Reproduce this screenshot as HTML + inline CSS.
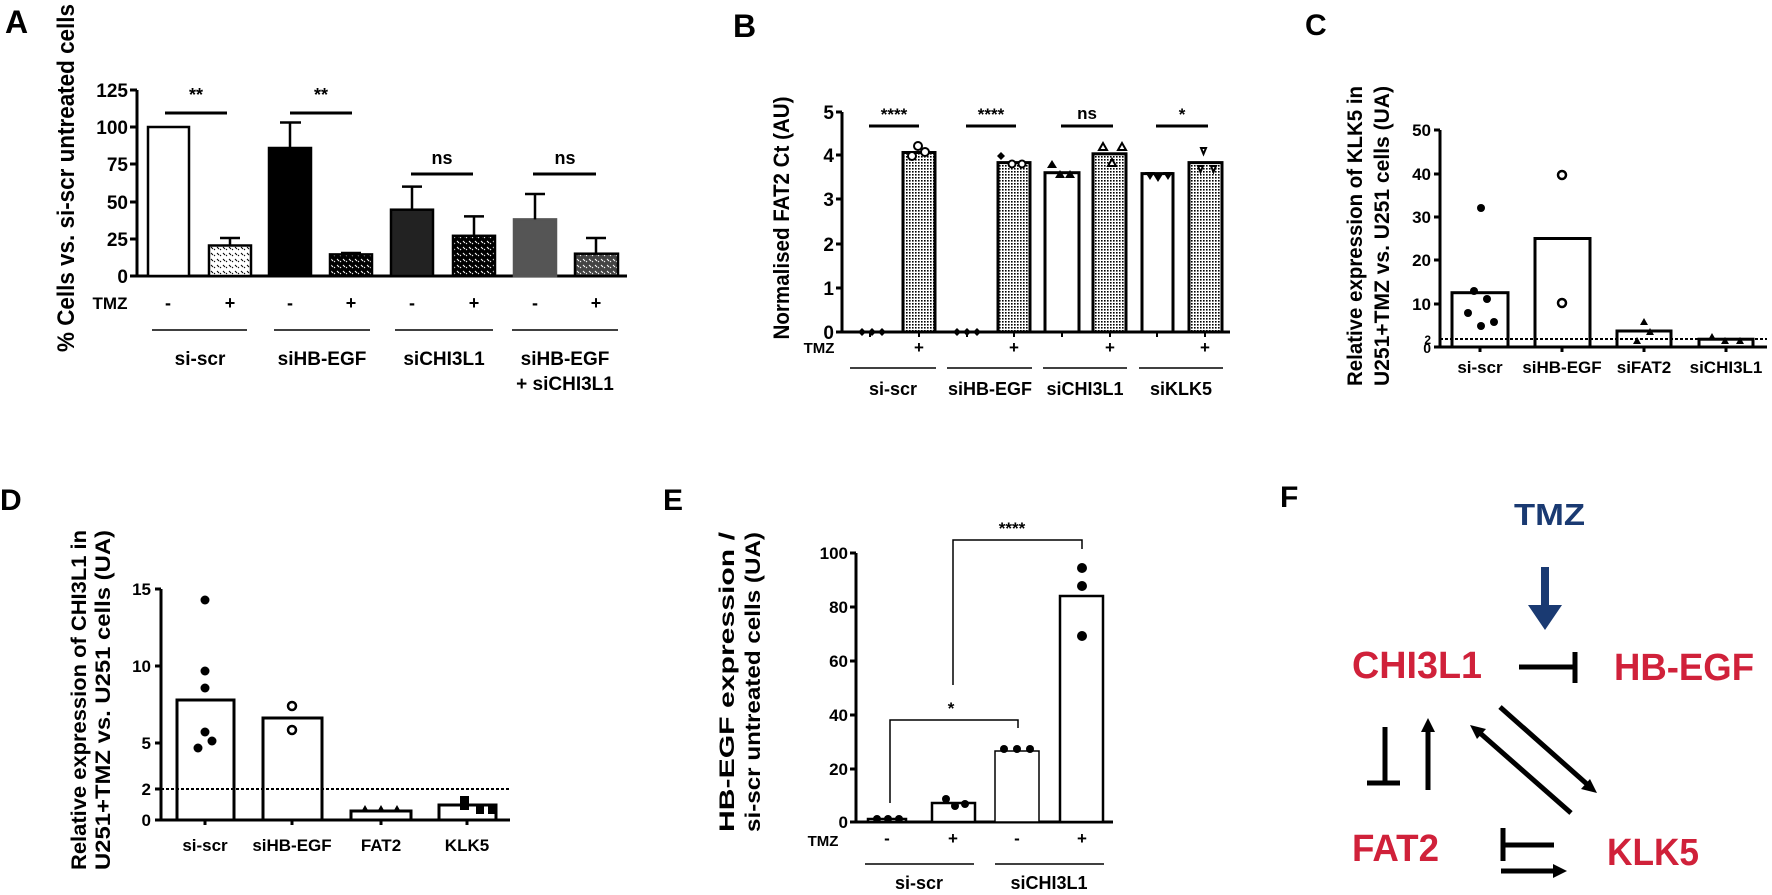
<!DOCTYPE html>
<html><head><meta charset="utf-8"><style>html,body{margin:0;padding:0;background:#fff}svg{display:block}text{font-family:"Liberation Sans",Arial,sans-serif;font-weight:bold}</style></head><body>
<svg width="1772" height="895" viewBox="0 0 1772 895" xmlns="http://www.w3.org/2000/svg">
<defs>
<pattern id="dw" width="6" height="6" patternUnits="userSpaceOnUse"><rect width="6" height="6" fill="#fff"/><path d="M1 1l2 2M4 4l1 -1" stroke="#000" stroke-width="1"/></pattern>
<pattern id="db" width="6" height="6" patternUnits="userSpaceOnUse"><rect width="6" height="6" fill="#000"/><path d="M1 1l2 2M4 4l1 -1" stroke="#fff" stroke-width="1"/></pattern>
<pattern id="dg" width="6" height="6" patternUnits="userSpaceOnUse"><rect width="6" height="6" fill="#444"/><path d="M1 1l2 2M4 4l1 -1" stroke="#fff" stroke-width="1"/></pattern>
<pattern id="dot" width="3" height="3" patternUnits="userSpaceOnUse"><rect width="3" height="3" fill="#fff"/><rect x="0" y="0" width="1.6" height="1.6" fill="#000"/></pattern>
</defs>
<g stroke="#000" fill="none" stroke-width="3">
<path d="M137 90V276H627"/>
<path d="M130 90h7M130 127h7M130 164h7M130 202h7M130 239h7M130 276h7"/>
</g>
<g font-size="19" text-anchor="end">
<text x="128" y="97">125</text><text x="128" y="134">100</text><text x="128" y="171">75</text><text x="128" y="209">50</text><text x="128" y="246">25</text><text x="128" y="283">0</text></g>
<text x="5" y="33" font-size="32">A</text>
<text transform="translate(74,178) rotate(-90)" font-size="24" text-anchor="middle" textLength="348" lengthAdjust="spacingAndGlyphs">% Cells vs. si-scr untreated cells</text>
<g stroke="#000" stroke-width="2.5">
<rect x="148" y="127" width="41" height="149" fill="#fff"/>
<rect x="209" y="245.5" width="42" height="30.5" fill="url(#dw)"/>
<rect x="269" y="148" width="42" height="128" fill="#000"/>
<rect x="330" y="254.4" width="42" height="21.6" fill="url(#db)"/>
<rect x="391" y="209.7" width="42" height="66.3" fill="#222"/>
<rect x="453" y="235.8" width="42" height="40.2" fill="url(#db)"/>
<rect x="514" y="219.4" width="42" height="56.6" fill="#555" stroke="#555"/>
<rect x="575" y="253.7" width="43" height="22.3" fill="url(#dg)"/>
<path fill="none" d="M230 245.5V238M220 238h20M290 148V122.5M280 122.5h21M351 254V253M341 253h20M412 209.7V186.6M402 186.6h20M474 235.8V216.4M464 216.4h20M535 219.4V194M525 194h20M596 253.7V238M586 238h20"/>
<path d="M165 113h62M290 113h62M411 174h62M533 174h63" stroke-width="3"/>
<path d="M152 330h95M274 330h96M395 330h98M512 330h106" stroke-width="1.5"/>
</g>
<g font-size="18" text-anchor="middle">
<text x="196" y="101">**</text><text x="321" y="101">**</text><text x="442" y="164">ns</text><text x="565" y="164">ns</text>
<text x="110" y="309" font-size="17">TMZ</text>
<text x="168" y="309">-</text><text x="230" y="309">+</text><text x="290" y="309">-</text><text x="351" y="309">+</text><text x="412" y="309">-</text><text x="474" y="309">+</text><text x="535" y="309">-</text><text x="596" y="309">+</text>
<text x="200" y="365" font-size="19">si-scr</text><text x="322" y="365" font-size="19">siHB-EGF</text><text x="444" y="365" font-size="19">siCHI3L1</text>
<text x="565" y="365" font-size="19">siHB-EGF</text><text x="565" y="390" font-size="19">+ siCHI3L1</text>
</g>
<text x="733" y="37" font-size="32">B</text>
<text transform="translate(789,218) rotate(-90)" font-size="22" text-anchor="middle" textLength="243" lengthAdjust="spacingAndGlyphs">Normalised FAT2 Ct (AU)</text>
<g font-size="19" text-anchor="end"><text x="834" y="119">5</text><text x="834" y="162">4</text><text x="834" y="206">3</text><text x="834" y="251">2</text><text x="834" y="295">1</text><text x="834" y="339">0</text></g>
<g stroke="#000" stroke-width="3" fill="none">
<path d="M842 112V332H1230"/>
<path d="M836 112h6M836 155h6M836 199h6M836 244h6M836 288h6M836 332h6"/>
<path d="M869 126h50M966 126h50M1061 126h52M1156 126h52"/>
<path d="M850 368h86M947 368h85M1043 368h84M1139 368h84" stroke-width="1.5"/>
<path d="M919 332v5M1014 332v5M1062 332v5M1110 332v5M1157 332v5M1205 332v5M870 332v5M967 332v5" stroke-width="2"/>
</g>
<g stroke="#000" stroke-width="3">
<rect x="903" y="152.5" width="32" height="179.5" fill="url(#dot)"/>
<rect x="998" y="162.6" width="32" height="169.4" fill="url(#dot)"/>
<rect x="1045" y="172.7" width="34" height="159.3" fill="#fff"/>
<rect x="1093" y="153.8" width="33" height="178.2" fill="url(#dot)"/>
<rect x="1142" y="173.6" width="31" height="158.4" fill="#fff"/>
<rect x="1189" y="162.6" width="33" height="169.4" fill="url(#dot)"/>
</g>
<g fill="#000">
<path d="M862 328l4 4-4 4-4-4zM872 328l4 4-4 4-4-4zM882 328l4 4-4 4-4-4zM957 328l4 4-4 4-4-4zM967 328l4 4-4 4-4-4zM977 328l4 4-4 4-4-4z"/>
<path d="M1052 160l5 8h-10zM1060 170l5 8h-10zM1070 170l5 8h-10zM1150 172l5 0-5 8-5-8zM1158 174l5 0-5 8-5-8zM1168 172l5 0-5 8-5-8z"/>
<path d="M1001 152l4 4-4 4-4-4z"/>
</g>
<g fill="#fff" stroke="#000" stroke-width="2">
<circle cx="918" cy="146" r="4"/><circle cx="925" cy="152" r="4"/><circle cx="912" cy="156" r="4"/>
<circle cx="1012" cy="164" r="3.5"/><circle cx="1022" cy="164" r="3.5"/>
<path d="M1099 150l4 -7 4 7zM1118 150l4 -7 4 7zM1108 166l4 -7 4 7zM1201 148l5 0-2.5 6zM1198 166l5 0-2.5 6zM1211 166l5 0-2.5 6z"/>
</g>
<g font-size="17" text-anchor="middle">
<text x="894" y="120">****</text><text x="991" y="120">****</text><text x="1087" y="119">ns</text><text x="1182" y="120">*</text>
<text x="819" y="353" font-size="15">TMZ</text>
<text x="919" y="353">+</text><text x="1014" y="353">+</text><text x="1110" y="353">+</text><text x="1205" y="353">+</text>
<text x="893" y="395" font-size="18">si-scr</text><text x="990" y="395" font-size="18">siHB-EGF</text><text x="1085" y="395" font-size="18">siCHI3L1</text><text x="1181" y="395" font-size="18">siKLK5</text>
</g>
<text x="1305" y="35" font-size="30">C</text>
<text transform="translate(1362,236) rotate(-90)" font-size="21" text-anchor="middle" textLength="300" lengthAdjust="spacingAndGlyphs">Relative expression of KLK5 in</text>
<text transform="translate(1389,236) rotate(-90)" font-size="21" text-anchor="middle" textLength="300" lengthAdjust="spacingAndGlyphs">U251+TMZ vs. U251 cells (UA)</text>
<g stroke="#000" stroke-width="3" fill="none">
<path d="M1440 130V347H1767"/>
<path d="M1434 130h6M1434 174h6M1434 217h6M1434 260h6M1434 304h6M1434 347h6M1480 347v5M1562 347v5M1644 347v5M1726 347v5"/>
</g>
<g stroke="#000" stroke-width="3" fill="#fff">
<rect x="1452" y="292.7" width="56" height="54.3"/><rect x="1535" y="238.5" width="55" height="108.5"/>
<rect x="1617" y="331" width="54" height="16"/><rect x="1699" y="339.2" width="54" height="7.8"/>
</g>
<path d="M1440 339H1767" stroke="#000" stroke-width="2" stroke-dasharray="3,2"/>
<g fill="#000"><circle cx="1481" cy="208" r="4"/><circle cx="1474" cy="291" r="4"/><circle cx="1487" cy="299" r="4"/><circle cx="1468" cy="313" r="4"/><circle cx="1481" cy="326" r="4"/><circle cx="1494" cy="322" r="4"/>
<path d="M1644 318l4 7h-8zM1650 328l4 7h-8zM1637 337l4 7h-8zM1712 333l4 7h-8zM1725 337l4 7h-8zM1740 337l4 7h-8z"/></g>
<g fill="#fff" stroke="#000" stroke-width="2.5"><circle cx="1562" cy="175" r="4"/><circle cx="1562" cy="303" r="4"/></g>
<g font-size="17" text-anchor="end"><text x="1431" y="136">50</text><text x="1431" y="180">40</text><text x="1431" y="223">30</text><text x="1431" y="266">20</text><text x="1431" y="310">10</text><text x="1431" y="344" font-size="12">2</text><text x="1431" y="353" font-size="14">0</text></g>
<g font-size="17" text-anchor="middle"><text x="1480" y="373">si-scr</text><text x="1562" y="373">siHB-EGF</text><text x="1644" y="373">siFAT2</text><text x="1726" y="373">siCHI3L1</text></g>
<text x="0" y="510" font-size="30">D</text>
<text transform="translate(86,700) rotate(-90)" font-size="21" text-anchor="middle" textLength="340" lengthAdjust="spacingAndGlyphs">Relative expression of CHI3L1 in</text>
<text transform="translate(110,700) rotate(-90)" font-size="21" text-anchor="middle" textLength="340" lengthAdjust="spacingAndGlyphs">U251+TMZ vs. U251 cells (UA)</text>
<g stroke="#000" stroke-width="3" fill="none">
<path d="M161 589V820H510"/>
<path d="M155 589h6M155 666h6M155 743h6M155 789h6M155 820h6M205 820v5M292 820v5M381 820v5M467 820v5"/>
</g>
<g stroke="#000" stroke-width="3" fill="#fff">
<rect x="177" y="700" width="57" height="120"/><rect x="263" y="718" width="59" height="102"/>
<rect x="351" y="811" width="60" height="9"/><rect x="439" y="805" width="57" height="15"/>
</g>
<path d="M161 789H510" stroke="#000" stroke-width="2" stroke-dasharray="3,2"/>
<g fill="#000"><circle cx="205" cy="600" r="4.5"/><circle cx="205" cy="671" r="4.5"/><circle cx="205" cy="688" r="4.5"/><circle cx="205" cy="732" r="4.5"/><circle cx="212" cy="741" r="4.5"/><circle cx="198" cy="748" r="4.5"/>
<path d="M365 805l4 7h-8zM381 805l4 7h-8zM397 805l4 7h-8z"/><rect x="460" y="796" width="9" height="14"/><rect x="476" y="805" width="8" height="9"/><rect x="488" y="805" width="8" height="9"/></g>
<g fill="#fff" stroke="#000" stroke-width="2.5"><circle cx="292" cy="706" r="4"/><circle cx="292" cy="730" r="4"/></g>
<g font-size="17" text-anchor="end"><text x="151" y="595">15</text><text x="151" y="672">10</text><text x="151" y="749">5</text><text x="151" y="795">2</text><text x="151" y="826">0</text></g>
<g font-size="17" text-anchor="middle"><text x="205" y="851">si-scr</text><text x="292" y="851">siHB-EGF</text><text x="381" y="851">FAT2</text><text x="467" y="851">KLK5</text></g>
<text x="663" y="510" font-size="30">E</text>
<text transform="translate(734,682) rotate(-90)" font-size="21" text-anchor="middle" textLength="300" lengthAdjust="spacingAndGlyphs">HB-EGF expression /</text>
<text transform="translate(760,682) rotate(-90)" font-size="21" text-anchor="middle" textLength="300" lengthAdjust="spacingAndGlyphs">si-scr untreated cells (UA)</text>
<g stroke="#000" stroke-width="3" fill="none">
<path d="M856 553V822H1113"/>
<path d="M850 553h6M850 607h6M850 661h6M850 715h6M850 769h6M850 822h6"/>
<path d="M865 864h109M995 864h109" stroke-width="1.5"/>
<path d="M890 803V720H1018V728M953 685V540H1082V549" stroke-width="1.5"/>
</g>
<g stroke="#000" stroke-width="2.5" fill="#fff">
<rect x="868" y="819" width="38" height="3"/><rect x="932" y="803" width="43" height="19"/><rect x="995" y="751" width="44" height="71" stroke-width="1.5"/><rect x="1060" y="596" width="43" height="226"/>
</g>
<g fill="#000"><circle cx="877" cy="819" r="4"/><circle cx="888" cy="819" r="4"/><circle cx="899" cy="819" r="4"/><circle cx="946" cy="799" r="4"/><circle cx="955" cy="806" r="4"/><circle cx="965" cy="804" r="4"/><circle cx="1004" cy="749" r="4"/><circle cx="1017" cy="749" r="4"/><circle cx="1030" cy="749" r="4"/><circle cx="1082" cy="568" r="5"/><circle cx="1082" cy="586" r="5"/><circle cx="1082" cy="636" r="5"/></g>
<g font-size="17" text-anchor="end"><text x="848" y="559">100</text><text x="848" y="613">80</text><text x="848" y="667">60</text><text x="848" y="721">40</text><text x="848" y="775">20</text><text x="848" y="828">0</text></g>
<g font-size="17" text-anchor="middle"><text x="951" y="714">*</text><text x="1012" y="534">****</text>
<text x="823" y="846" font-size="15">TMZ</text><text x="887" y="844">-</text><text x="953" y="844">+</text><text x="1017" y="844">-</text><text x="1082" y="844">+</text>
<text x="919" y="889" font-size="18">si-scr</text><text x="1049" y="889" font-size="18">siCHI3L1</text></g>
<text x="1280" y="507" font-size="30">F</text>
<text x="1514" y="525" font-size="31" fill="#1a3a72" textLength="71" lengthAdjust="spacingAndGlyphs">TMZ</text>
<path d="M1541 567h8v38h13l-17 25-17-25h13z" fill="#1a3a72"/>
<g font-size="38" fill="#d0213a">
<text x="1352" y="678" textLength="130" lengthAdjust="spacingAndGlyphs">CHI3L1</text>
<text x="1614" y="680" textLength="140" lengthAdjust="spacingAndGlyphs">HB-EGF</text>
<text x="1352" y="861" textLength="87" lengthAdjust="spacingAndGlyphs">FAT2</text>
<text x="1607" y="865" textLength="92" lengthAdjust="spacingAndGlyphs">KLK5</text>
</g>
<g stroke="#000" stroke-width="5" fill="none">
<path d="M1519 667H1575M1575 652V683"/>
<path d="M1385 727V783M1367 783H1400"/>
<path d="M1428 790V728"/>
<path d="M1500 707L1588 785"/>
<path d="M1571 813L1480 733"/>
<path d="M1554 845H1503M1503 828V861"/>
<path d="M1501 871H1555"/>
</g>
<g fill="#000">
<path d="M1428 718l-7 14h14z"/>
<path d="M1597 793l-16 -4 9 -10z"/>
<path d="M1470 725l16 4-9 10z"/>
<path d="M1567 871l-14 -7v14z"/>
</g>
</svg>
</body></html>
